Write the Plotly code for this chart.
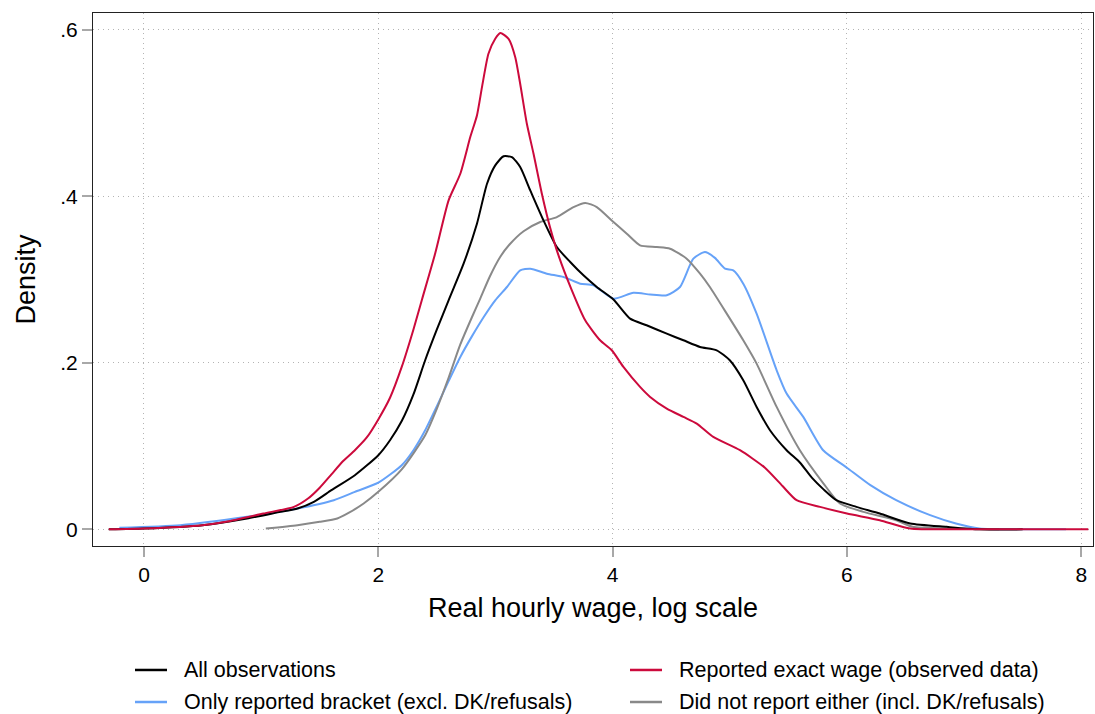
import plotly.graph_objects as go

# ---- data ----
all_x = [-0.3, 0.0, 0.5, 0.88, 1.165, 1.31, 1.45, 1.6, 1.8, 2.0, 2.1, 2.2, 2.3, 2.4, 2.5, 2.6, 2.728, 2.842,
         2.928, 2.998, 3.069, 3.14, 3.211, 3.297, 3.41, 3.524, 3.638, 3.751, 3.865, 4.007, 4.149, 4.29,
         4.462, 4.604, 4.746, 4.888, 5.0, 5.115, 5.229, 5.343, 5.485, 5.6, 5.7, 5.8, 5.91, 6.08, 6.28,
         6.54, 6.85, 7.13, 7.5]
all_y = [0.0, 0.001, 0.005, 0.013, 0.021, 0.025, 0.033, 0.047, 0.065, 0.089, 0.107, 0.13, 0.162, 0.203,
         0.24, 0.275, 0.319, 0.367, 0.415, 0.437, 0.448, 0.447, 0.435, 0.407, 0.371, 0.339, 0.321, 0.305,
         0.291, 0.276, 0.253, 0.245, 0.235, 0.227, 0.219, 0.215, 0.203, 0.179, 0.147, 0.119, 0.095, 0.08,
         0.062, 0.048, 0.035, 0.027, 0.019, 0.007, 0.003, 0.0, 0.0]

exact_x = [-0.3, 0.0, 0.5, 0.7, 1.02, 1.28, 1.4, 1.5, 1.6, 1.7, 1.8, 1.9, 2.0, 2.1, 2.2, 2.3, 2.373, 2.487,
           2.6, 2.7, 2.785, 2.842, 2.885, 2.94, 2.998, 3.041, 3.112, 3.169, 3.211, 3.268, 3.325, 3.396,
           3.467, 3.538, 3.652, 3.766, 3.893, 3.993, 4.092, 4.234, 4.32, 4.462, 4.604, 4.718, 4.859,
           5.087, 5.3, 5.45, 5.57, 5.77, 6.0, 6.28, 6.54, 7.0, 8.06]
exact_y = [0.0, 0.001, 0.005, 0.009, 0.019, 0.027, 0.037, 0.05, 0.066, 0.082, 0.095, 0.11, 0.132, 0.158,
           0.195, 0.24, 0.276, 0.332, 0.395, 0.427, 0.471, 0.497, 0.531, 0.571, 0.589, 0.596, 0.589,
           0.567, 0.535, 0.487, 0.451, 0.403, 0.362, 0.329, 0.287, 0.251, 0.227, 0.215, 0.195, 0.171,
           0.159, 0.145, 0.135, 0.127, 0.111, 0.095, 0.074, 0.052, 0.035, 0.027, 0.019, 0.011, 0.001,
           0.0, 0.0]

bracket_x = [-0.21, 0.31, 0.88, 1.31, 1.62, 1.8, 2.0, 2.2, 2.3, 2.4, 2.5, 2.6, 2.7, 2.8, 2.9, 2.998, 3.098,
             3.211, 3.297, 3.439, 3.581, 3.723, 3.836, 4.007, 4.177, 4.32, 4.462, 4.575, 4.689, 4.788,
             4.873, 4.959, 5.03, 5.115, 5.229, 5.4, 5.485, 5.627, 5.797, 6.0, 6.2, 6.42, 6.71, 6.93,
             7.13, 7.5, 7.87]
bracket_y = [0.002, 0.005, 0.015, 0.025, 0.035, 0.045, 0.056, 0.077, 0.095, 0.119, 0.148, 0.178, 0.207,
             0.232, 0.255, 0.275, 0.291, 0.311, 0.313, 0.307, 0.303, 0.295, 0.293, 0.277, 0.284, 0.282,
             0.281, 0.291, 0.325, 0.333, 0.326, 0.313, 0.311, 0.295, 0.259, 0.191, 0.163, 0.135, 0.095,
             0.074, 0.053, 0.035, 0.017, 0.007, 0.001, 0.0, 0.0]

neither_x = [1.04, 1.31, 1.5, 1.65, 1.75, 1.875, 2.0, 2.2, 2.4, 2.5, 2.6, 2.7, 2.8, 2.87, 2.95, 3.04, 3.12,
             3.24, 3.382, 3.524, 3.666, 3.766, 3.865, 4.007, 4.121, 4.234, 4.377, 4.49, 4.632, 4.746, 4.83,
             4.974, 5.115, 5.229, 5.4, 5.598, 5.8, 5.94, 6.14, 6.42, 6.56, 6.85, 7.3]
neither_y = [0.001, 0.005, 0.009, 0.013, 0.02, 0.031, 0.045, 0.072, 0.113, 0.145, 0.182, 0.222, 0.255,
             0.277, 0.303, 0.327, 0.342, 0.358, 0.369, 0.375, 0.387, 0.392, 0.387, 0.369, 0.355, 0.341,
             0.339, 0.337, 0.325, 0.307, 0.291, 0.259, 0.227, 0.199, 0.147, 0.095, 0.055, 0.031, 0.021,
             0.011, 0.003, 0.001, 0.0]

x_ticks = [0, 2, 4, 6, 8]
x_tick_labels = ["0", "2", "4", "6", "8"]
y_ticks = [0, 0.2, 0.4, 0.6]
y_tick_labels = ["0", ".2", ".4", ".6"]

series_names = ["All observations", "Reported exact wage (observed data)",
                "Only reported bracket (excl. DK/refusals)", "Did not report either (incl. DK/refusals)"]

RED = "#CC0A3C"
BLUE = "#66A2F8"
GRAY = "#898989"
BLACK = "#000000"

FONT = "Liberation Sans, Arial, Helvetica, sans-serif"

fig = go.Figure()

def add(x, y, name, color):
    fig.add_trace(go.Scatter(x=x, y=y, mode="lines", name=name, showlegend=False,
                             line=dict(color=color, width=2, shape="spline", smoothing=0.6)))

add(bracket_x, bracket_y, series_names[2], BLUE)
add(neither_x, neither_y, series_names[3], GRAY)
add(all_x, all_y, series_names[0], BLACK)
add(exact_x, exact_y, series_names[1], RED)

# manual two-column legend (paper coordinates; plot area spans 93..1093 x 13..546 px)
legend_items = [
    (series_names[0], BLACK, 0.042, -0.2326),
    (series_names[2], BLUE, 0.042, -0.2927),
    (series_names[1], RED, 0.537, -0.2326),
    (series_names[3], GRAY, 0.537, -0.2927),
]
for name, color, lx, ly in legend_items:
    fig.add_shape(type="line", xref="paper", yref="paper", x0=lx, x1=lx + 0.032, y0=ly, y1=ly,
                  line=dict(color=color, width=2.5))
    fig.add_annotation(xref="paper", yref="paper", x=lx + 0.047, y=ly, text=name, showarrow=False,
                       xanchor="left", yanchor="middle", font=dict(family=FONT, size=21.5, color="#000"))

grid = dict(showgrid=True, gridcolor="#b4b4b4", griddash="1px,4px", gridwidth=1,
            zeroline=False, showline=True, linecolor="#222", linewidth=1.3, mirror=True,
            ticks="outside", ticklen=10, tickcolor="#a8a8a8", tickwidth=1.5,
            tickfont=dict(size=21, family=FONT))

fig.update_layout(
    width=1095, height=714,
    margin=dict(l=93, r=2, t=13, b=168),
    paper_bgcolor="white", plot_bgcolor="white",
    font=dict(family=FONT, size=21, color="#000"),
    showlegend=False,
    xaxis=dict(
        range=[-0.435, 8.1], tickvals=x_ticks, ticktext=x_tick_labels,
        title=dict(text="Real hourly wage, log scale", font=dict(size=27, family=FONT), standoff=12),
        **grid,
    ),
    yaxis=dict(
        range=[-0.02, 0.62], tickvals=y_ticks, ticktext=y_tick_labels, tickangle=0,
        title=dict(text="Density", font=dict(size=27, family=FONT), standoff=16),
        **grid,
    ),
)

fig.write_html("out.html")
